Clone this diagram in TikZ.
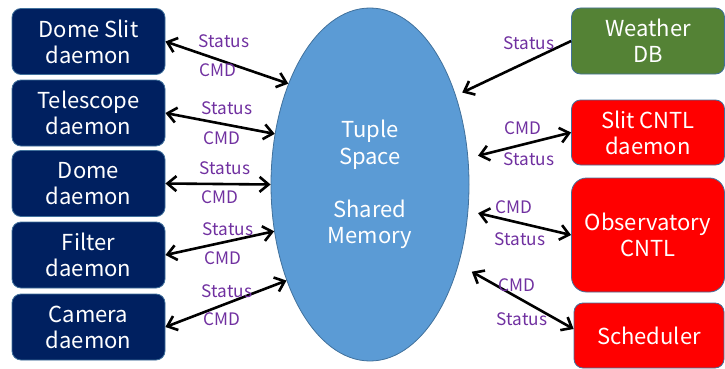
\documentclass[tikz,border=0pt]{standalone}
\usepackage{fontspec}
\setmainfont{Noto Sans CJK JP}
\usetikzlibrary{shapes.geometric,arrows.meta}

\definecolor{navy}{RGB}{0,32,96}
\definecolor{edgeblue}{RGB}{65,113,156}
\definecolor{shmem}{RGB}{91,155,213}
\definecolor{wxgreen}{RGB}{84,130,53}
\definecolor{msgpurple}{RGB}{112,48,160}

\tikzset{
  daemon/.style={draw=edgeblue, line width=0.8pt, fill=navy, rounded corners=9pt,
    minimum width=153pt, minimum height=66pt, inner sep=0pt, align=center,
    text=white, font=\fontsize{22}{26}\selectfont},
  cntl/.style={daemon, fill=red},
  lbl/.style={text=msgpurple, inner sep=0pt, font=\fontsize{17.2}{19}\selectfont},
  link/.style={line width=2.6pt,
    {Straight Barb[length=9pt,width=15pt]}-{Straight Barb[length=9pt,width=15pt]}},
  oneway/.style={line width=2.6pt, -{Straight Barb[length=9pt,width=15pt]}}
}

\begin{document}
\begin{tikzpicture}[x=1pt,y=-1pt]
\useasboundingbox (0,0) rectangle (725,369);

% shared memory in the middle
\node[ellipse, draw=edgeblue, line width=0.8pt, fill=shmem, minimum width=198pt,
  minimum height=353pt, inner sep=0pt, align=center, text=white,
  font=\fontsize{22}{26.5}\selectfont] (ts) at (370,184.5)
  {Tuple\\Space\\[26.5pt]Shared\\Memory};

% daemons on the left
\node[daemon] (dslit) at (88.5,41.5) {Dome Slit\\daemon};
\node[daemon] (tel)   at (88.5,113)  {Telescope\\daemon};
\node[daemon] (dome)  at (88.5,183.5) {Dome\\daemon};
\node[daemon] (filt)  at (88.5,255)  {Filter\\daemon};
\node[daemon] (cam)   at (88.5,327)  {Camera\\daemon};

% controllers on the right
\node[daemon, fill=wxgreen] (wx) at (648,41) {Weather\\DB};
\node[cntl, minimum height=65pt] (slit) at (648,132.5) {Slit CNTL\\daemon};
\node[cntl, minimum height=114pt, rounded corners=15pt] (obs) at (648,235) {Observatory\\CNTL};
\node[cntl, minimum width=150pt, minimum height=65pt] (sched) at (649,335.5) {Scheduler};

% left links
\draw[link] (dslit.east) -- (ts.129);
\draw[link] (tel.east) -- (ts.152);
\draw[link] (dome.east) -- (ts.180);
\draw[link] (filt.east) -- (ts.206);
\draw[link] (cam.east) -- (ts.229);

% right links
\draw[oneway, shorten >=7pt] (wx.west) -- (ts.46);
\draw[link, shorten >=10pt] (slit.west) -- (ts.15);
\draw[link, shorten >=10pt] (obs.west) -- (ts.-15);
\draw[link, shorten >=15pt] ([yshift=6.5pt]sched.west) -- (ts.-42);

% message labels
\node[lbl] (st1) at (224,41)  {Status};
\node[lbl] (cm1) at (218,70)  {CMD};
\node[lbl] (st2) at (227,108) {Status};
\node[lbl] (cm2) at (222,138) {CMD};
\node[lbl] (st3) at (225,168) {Status};
\node[lbl] (cm3) at (220,197) {CMD};
\node[lbl] (st4) at (228,229) {Status};
\node[lbl] (cm4) at (223,258) {CMD};
\node[lbl] (st5) at (227,291) {Status};
\node[lbl] (cm5) at (222,319) {CMD};

\node[lbl] (st6) at (529,43)  {Status};
\node[lbl] (cm7) at (523,128) {CMD};
\node[lbl] (st7) at (529,159) {Status};
\node[lbl] (cm8) at (514,207) {CMD};
\node[lbl] (st8) at (520,239) {Status};
\node[lbl] (cm9) at (517,285) {CMD};
\node[lbl] (st9) at (522,319) {Status};
\end{tikzpicture}
\end{document}
